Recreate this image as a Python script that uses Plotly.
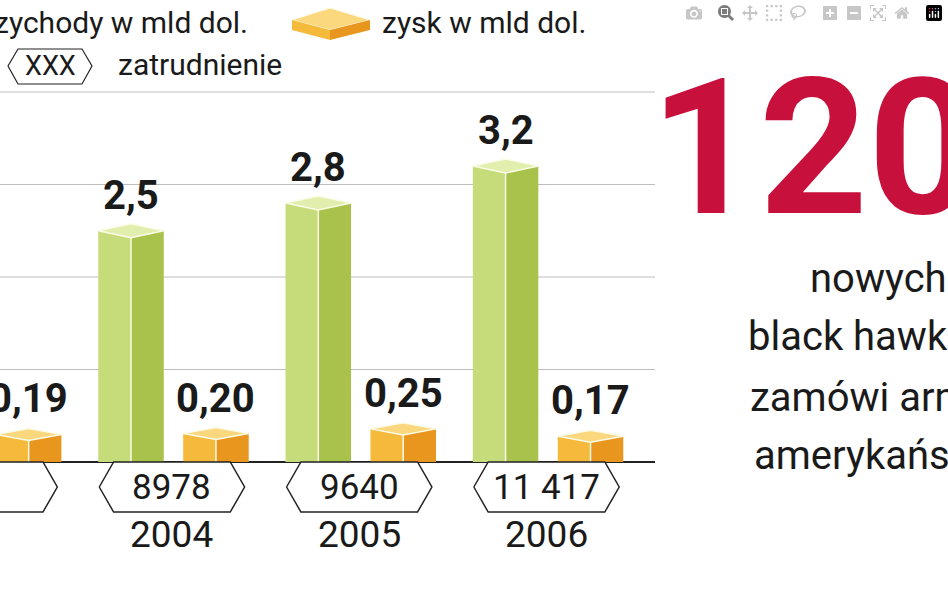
import plotly.graph_objects as go

years = ["2003", "2004", "2005", "2006"]
revenue = [2.3, 2.5, 2.8, 3.2]
profit = [0.19, 0.20, 0.25, 0.17]
revenue_labels = ["2,3", "2,5", "2,8", "3,2"]
profit_labels = ["0,19", "0,20", "0,25", "0,17"]
employment = ["b.d.", "8978", "9640", "11 417"]
grid_vals = [1, 2, 3, 4]

W, H = 948, 593
FONT = "Liberation Sans Narrow, Roboto, sans-serif"
XU = 1 / 183.0
YU = 1 / 92.5
x_rng = [15 * XU, 655 * XU]
y_rng = [-131 * YU, 4 + 92 * YU]

LG, DG, TG = "#c6dc7a", "#a9c24c", "#e2eeae"
LO, DO, TO = "#f5b93c", "#e8961e", "#fbd77e"
TXT = "#1a1a1a"

fig = go.Figure()
idx = list(range(len(years)))
bw = 64 * XU
rx = [i - 40 * XU for i in idx]
px_ = [i + 43 * XU for i in idx]

for g in grid_vals:
    fig.add_shape(type="line", x0=x_rng[0], x1=x_rng[1], y0=g, y1=g,
                  line=dict(color="#bdbdbd", width=1.2), layer="below")
fig.add_shape(type="line", x0=x_rng[0], x1=x_rng[1], y0=0, y1=0,
              line=dict(color="#222", width=2), layer="below")

def block(xc, v, light, dark, top, d):
    half = bw / 2
    fig.add_trace(go.Bar(x=[xc - half / 2], y=[v], width=half, marker=dict(color=light, line=dict(width=0)), hoverinfo="skip"))
    fig.add_trace(go.Bar(x=[xc + half / 2], y=[v], width=half, marker=dict(color=dark, line=dict(width=0)), hoverinfo="skip"))
    fig.add_trace(go.Scatter(x=[xc - half, xc, xc + half, xc, xc - half], y=[v, v + d, v, v - d, v],
                             fill="toself", fillcolor=top, mode="lines",
                             line=dict(color="#fbfbe8", width=1.5), hoverinfo="skip"))
    fig.add_trace(go.Scatter(x=[xc, xc], y=[0, v - d], mode="lines",
                             line=dict(color="#fbfbe8", width=1.5), hoverinfo="skip"))

def ann(**kw):
    kw.setdefault("xanchor", "center")
    kw.setdefault("yanchor", "middle")
    fig.add_annotation(showarrow=False, **kw)

for i in idx:
    block(rx[i], revenue[i], LG, DG, TG, 7 * YU)
    block(px_[i], profit[i] + 10 * YU, LO, DO, TO, 6 * YU)
    ann(x=rx[i], y=revenue[i] + 10 * YU, text=f"<b>{revenue_labels[i]}</b>", yanchor="bottom",
        font=dict(family=FONT, size=40, color=TXT))
    ann(x=px_[i], y=profit[i] + 20 * YU, text=f"<b>{profit_labels[i]}</b>", yanchor="bottom",
        font=dict(family=FONT, size=40, color=TXT))
    hw, hh, tip = 71 * XU, 25 * YU, 14 * XU
    yc = -25 * YU
    fig.add_trace(go.Scatter(x=[i - hw, i - hw + tip, i + hw - tip, i + hw, i + hw - tip, i - hw + tip, i - hw],
                             y=[yc, yc + hh, yc + hh, yc, yc - hh, yc - hh, yc],
                             mode="lines", fill="toself", fillcolor="white",
                             line=dict(color="#222", width=1.5), hoverinfo="skip"))
    ann(x=i, y=yc, text=employment[i], font=dict(family=FONT, size=35, color=TXT))
    ann(x=i, y=-72 * YU, text=years[i], font=dict(family=FONT, size=37, color=TXT))

LF = dict(family=FONT, size=30, color=TXT)
ann(xref="paper", yref="paper", x=250 / W, y=1 - 22 / H, xanchor="right", text="przychody w mld dol.", font=LF)
fig.add_shape(type="path", xref="paper", yref="paper",
              path=f"M {292/W} {1-20/H} L {330/W} {1-8/H} L {370/W} {1-20/H} L {330/W} {1-30/H} Z",
              fillcolor=TO, line=dict(color="#fbfbe8", width=1))
fig.add_shape(type="path", xref="paper", yref="paper",
              path=f"M {292/W} {1-20/H} L {330/W} {1-30/H} L {330/W} {1-40/H} L {292/W} {1-30/H} Z",
              fillcolor=LO, line=dict(width=0))
fig.add_shape(type="path", xref="paper", yref="paper",
              path=f"M {330/W} {1-30/H} L {370/W} {1-20/H} L {370/W} {1-30/H} L {330/W} {1-40/H} Z",
              fillcolor=DO, line=dict(width=0))
ann(xref="paper", yref="paper", x=380 / W, y=1 - 22 / H, xanchor="left", text="zysk w mld dol.", font=LF)
fig.add_shape(type="path", xref="paper", yref="paper",
              path=f"M {8/W} {1-66/H} L {18/W} {1-49/H} L {82/W} {1-49/H} L {92/W} {1-66/H} L {82/W} {1-84/H} L {18/W} {1-84/H} Z",
              line=dict(color="#222", width=1.2))
ann(xref="paper", yref="paper", x=50 / W, y=1 - 66 / H, text="XXX", font=dict(family=FONT, size=27, color=TXT))
ann(xref="paper", yref="paper", x=116 / W, y=1 - 64 / H, xanchor="left", text="zatrudnienie", font=LF)

ann(xref="paper", yref="paper", x=648 / W, y=1 - 148 / H, xanchor="left",
    text="<b>120</b>", font=dict(family=FONT, size=190, color="#c8103c"))
for t, x0, yy in [("nowych", 808, 278), ("black hawków", 746, 336),
                  ("zamówi armia", 748, 397), ("amerykańska", 752, 456)]:
    ann(xref="paper", yref="paper", x=x0 / W, y=1 - yy / H, xanchor="left",
        text=t, font=dict(family=FONT, size=40, color=TXT))

fig.update_layout(width=W, height=H, margin=dict(l=0, r=0, t=0, b=0), showlegend=False,
                  paper_bgcolor="white", plot_bgcolor="white", barmode="overlay",
                  xaxis=dict(range=x_rng, domain=[0, 655 / W], visible=False),
                  yaxis=dict(range=y_rng, visible=False))
fig.write_html("out.html", post_script="document.body.style.margin='0';")
